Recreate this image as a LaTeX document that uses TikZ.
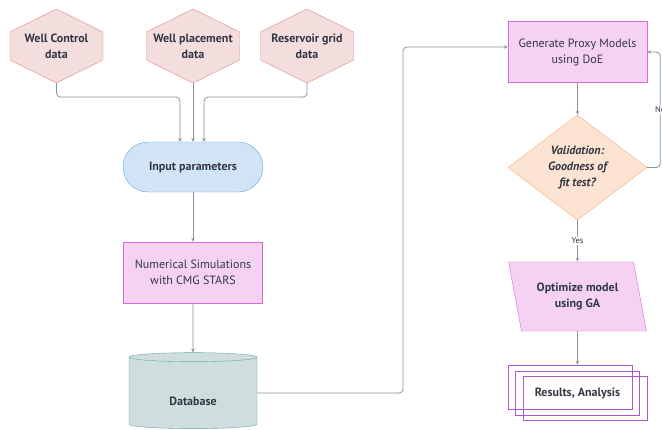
\documentclass[tikz,border=0pt]{standalone}
\usepackage{fontspec}
\setmainfont{PT Sans}
\usetikzlibrary{shapes.geometric,positioning,arrows.meta}

\definecolor{hexfill}{RGB}{243,221,221}
\definecolor{hexline}{RGB}{220,135,135}
\definecolor{inpfill}{RGB}{210,227,246}
\definecolor{inpline}{RGB}{95,165,232}
\definecolor{pinkfill}{RGB}{245,210,241}
\definecolor{pinkline}{RGB}{218,105,222}
\definecolor{decfill}{RGB}{253,227,210}
\definecolor{decline}{RGB}{246,172,125}
\definecolor{dbfill}{RGB}{206,222,222}
\definecolor{dbline}{RGB}{105,168,158}
\definecolor{resline}{RGB}{172,85,212}
\definecolor{conn}{RGB}{136,148,160}
\definecolor{txt}{RGB}{50,56,68}

\begin{document}
\begin{tikzpicture}[x=1pt,y=-1pt,on grid,font=\fontsize{12}{16}\selectfont,
  every node/.style={text=txt,align=center,inner sep=0pt},
  hexa/.style={rectangle,minimum width=95pt,minimum height=76pt,font=\fontsize{12}{16}\selectfont\bfseries,
    path picture={\draw[draw=hexline,fill=hexfill]
      ([yshift=-1pt]path picture bounding box.north)
      -- ([xshift=-1pt,yshift=-24pt]path picture bounding box.north east)
      -- ([xshift=-1pt,yshift=24pt]path picture bounding box.south east)
      -- ([yshift=1pt]path picture bounding box.south)
      -- ([xshift=1pt,yshift=24pt]path picture bounding box.south west)
      -- ([xshift=1pt,yshift=-24pt]path picture bounding box.north west) -- cycle;}},
  terminal/.style={rectangle,rounded corners=25pt,draw=inpline,fill=inpfill,
    minimum width=140pt,minimum height=50pt,font=\fontsize{12}{16}\selectfont\bfseries},
  process/.style={rectangle,draw=pinkline,fill=pinkfill,minimum width=139pt,minimum height=61pt},
  decision/.style={diamond,draw=decline,fill=decfill,minimum width=139pt,minimum height=105pt,
    font=\fontsize{12}{16}\selectfont\bfseries\itshape},
  store/.style={cylinder,shape border rotate=90,aspect=0.19,draw=dbline,fill=dbfill,
    minimum width=128pt,minimum height=76pt,text height=26pt,text depth=2pt,
    font=\fontsize{12}{16}\selectfont\bfseries},
  inout/.style={trapezium,trapezium left angle=109,trapezium right angle=71,trapezium stretches=true,
    draw=pinkline,fill=pinkfill,minimum width=139pt,minimum height=69pt,font=\fontsize{12}{16}\selectfont\bfseries},
  docs/.style={rectangle,draw=resline,minimum width=124pt,minimum height=44pt,
    font=\fontsize{12}{16}\selectfont\bfseries},
  lbl/.style={fill=white,inner sep=1pt,font=\fontsize{8.5}{10}\selectfont},
  line/.style={draw=conn,line width=0.8pt,rounded corners=4pt,-{Stealth[length=4pt,width=3.5pt]}}]
   \useasboundingbox (0,0) rectangle (662,429);

   % left column
   \node[hexa] (WCD) at (56.5,46) {Well Control\\data};
   \node[hexa] (WPD) [right=136.5pt of WCD] {Well placement\\data};
   \node[hexa] (RGD) [right=114pt of WPD] {Reservoir grid\\data};
   \node[terminal] (INP) [below=121pt of WPD] {Input parameters};
   \node[process] (SIM) [below=105.5pt of INP] {Numerical Simulations\\with CMG STARS};
   \node[store] (DB) [below=120.5pt of SIM] {Database};

   % right column
   \node[process] (GEN) at (577.5,52) {Generate Proxy Models\\using DoE};
   \node[decision] (VAL) [below=115.5pt of GEN] {Validation:\\Goodness of\\fit test?};
   \node[inout] (OPT) [below=129pt of VAL] {Optimize model\\using GA};
   \node[docs] (RES) [below=96.5pt of OPT] {Results, Analysis};
   \node[docs] (RESA) at ([xshift=-7.5pt,yshift=6pt]RES.center) {};
   \node[docs] (RESC) at ([xshift=7.5pt,yshift=-5.5pt]RES.center) {};

   \draw[line] ([yshift=1pt]WCD.south) |- (180,97) -- (180,142);
   \draw[line] ([yshift=1pt]WPD.south) -- (INP.north);
   \draw[line] ([yshift=1pt]RGD.south) |- (204,97) -- (204,142);
   \draw[line] (INP) -- (SIM);
   \draw[line] (SIM) -- (DB.north);
   \draw[line] (DB.east) -| (403,47) -- ([yshift=5pt]GEN.west);
   \draw[line] (GEN) -- (VAL);
   \draw[line] (VAL.east) -- ++(13,0) |- node[lbl,pos=0.25] {No} (GEN.east);
   \draw[line] (VAL) -- node[lbl] {Yes} (OPT);
   \draw[line] (OPT) -- (OPT.south |- RESA.north);

\end{tikzpicture}
\end{document}
